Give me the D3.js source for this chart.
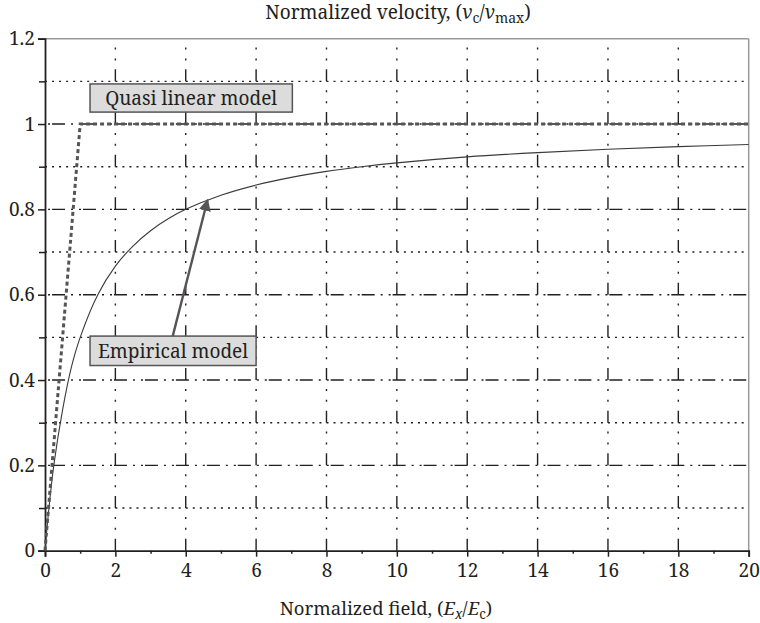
<!DOCTYPE html>
<html>
<head>
<meta charset="utf-8">
<script src="https://cdn.jsdelivr.net/npm/d3@7"></script>
<style>
  html, body { margin: 0; padding: 0; background: #fff; }
</style>
</head>
<body>
<div id="chart"></div>
<script>
// values
const fieldValues = [0, 0.1, 0.25, 0.5, 0.75, 1, 1.5, 2, 2.5, 3, 3.5, 4, 5, 6, 7, 8, 9, 10, 12, 14, 16, 18, 20];
const empiricalValues = [0, 0.09, 0.2, 0.33, 0.43, 0.5, 0.6, 0.667, 0.714, 0.75, 0.778, 0.8, 0.833, 0.857, 0.875, 0.889, 0.9, 0.909, 0.923, 0.933, 0.941, 0.947, 0.952];
const quasiField = [0, 1, 20];
const quasiValues = [0, 1, 1];
const xTicks = [0, 2, 4, 6, 8, 10, 12, 14, 16, 18, 20];
const yTicks = [0, 0.2, 0.4, 0.6, 0.8, 1, 1.2];

const FONT = "'Noto Serif', 'Liberation Serif', serif";
const width = 760, height = 623;
const margin = {top: 38.7, right: 11.3, bottom: 72.3, left: 45};

const svg = d3.select("#chart").append("svg")
  .attr("width", width)
  .attr("height", height);

const x = d3.scaleLinear().domain([0, 20]).range([margin.left, width - margin.right]);
const y = d3.scaleLinear().domain([0, 1.2]).range([height - margin.bottom, margin.top]);

// grid
const minorY = d3.range(1, 12).map(d => d / 10);
const unit = x(1) - x(0);
const yStep = y(0) - y(0.1);

svg.append("g").selectAll("line")
  .data(minorY)
  .enter()
  .append("line")
  .attr("x1", x(0))
  .attr("x2", x(20))
  .attr("y1", d => y(d))
  .attr("y2", d => y(d))
  .attr("stroke", "#231f20")
  .attr("stroke-width", 1.4)
  .attr("stroke-dasharray", (d, i) => i % 2 === 1
    ? `${unit * 0.37},${unit * 0.17},2,${unit * 0.17},2,${unit * 0.17 - 4}`
    : `2,${unit / 5 - 2}`)
  .attr("stroke-dashoffset", (d, i) => i % 2 === 1 ? -unit * 0.2 : 0);

// vertical grid, drawn top-down: gap, dot, gap, dot, gap, dash ending on each 0.1 line
const vDash = 12, vGap = (yStep - vDash - 4) / 3;
svg.append("g").selectAll("line")
  .data(d3.range(2, 20, 2))
  .enter()
  .append("line")
  .attr("x1", d => x(d))
  .attr("x2", d => x(d))
  .attr("y1", y(1.2))
  .attr("y2", y(0))
  .attr("stroke", "#231f20")
  .attr("stroke-width", 1.4)
  .attr("stroke-dasharray", `2,${vGap},2,${vGap},${vDash},${vGap}`)
  .attr("stroke-dashoffset", yStep - vGap);

// frame
svg.append("line")
  .attr("x1", x(0)).attr("x2", x(20))
  .attr("y1", y(1.2)).attr("y2", y(1.2))
  .attr("stroke", "#999").attr("stroke-width", 1.5);
svg.append("line")
  .attr("x1", x(20)).attr("x2", x(20))
  .attr("y1", y(1.2)).attr("y2", y(0))
  .attr("stroke", "#999").attr("stroke-width", 1.5);

// axes
svg.append("g")
  .attr("transform", `translate(0,${y(0)})`)
  .call(d3.axisBottom(x).tickValues(xTicks).tickSize(6).tickPadding(7).tickFormat(d3.format("d")));
svg.append("g")
  .attr("transform", `translate(0,${y(0)})`)
  .call(d3.axisBottom(x).tickValues(d3.range(1, 20, 2)).tickSize(3).tickFormat(""))
  .call(g => g.select(".domain").remove());

svg.append("g")
  .attr("transform", `translate(${x(0)},0)`)
  .call(d3.axisLeft(y).tickValues(yTicks).tickSize(7).tickPadding(3).tickFormat(d => d === 0 || d === 1 ? d : d.toFixed(1)));
svg.append("g")
  .attr("transform", `translate(${x(0)},0)`)
  .call(d3.axisLeft(y).tickValues(minorY.filter((d, i) => i % 2 === 0)).tickSize(6).tickFormat(""))
  .call(g => g.select(".domain").remove());

svg.selectAll(".domain").attr("stroke", "#231f20").attr("stroke-width", 1.8);
svg.selectAll(".tick line").attr("stroke", "#231f20").attr("stroke-width", 1.5);
svg.selectAll(".tick text").attr("fill", "#231f20")
  .attr("font-family", FONT).attr("font-size", 19);

// curves
svg.append("path")
  .datum(d3.zip(fieldValues, empiricalValues))
  .attr("d", d3.line().x(d => x(d[0])).y(d => y(d[1])).curve(d3.curveCatmullRom.alpha(0.5)))
  .attr("fill", "none")
  .attr("stroke", "#3a3a3a")
  .attr("stroke-width", 1.1);

svg.append("path")
  .datum(d3.zip(quasiField, quasiValues))
  .attr("d", d3.line().x(d => x(d[0])).y(d => y(d[1])))
  .attr("fill", "none")
  .attr("stroke", "#555")
  .attr("stroke-width", 3)
  .attr("stroke-dasharray", "4,3");

// arrow
svg.append("defs").append("marker")
  .attr("id", "head")
  .attr("viewBox", "0 0 10 10")
  .attr("refX", 9).attr("refY", 5)
  .attr("markerWidth", 5).attr("markerHeight", 5)
  .attr("orient", "auto")
  .append("path")
  .attr("d", "M0,0L10,5L0,10z")
  .attr("fill", "#555");

svg.append("line")
  .attr("x1", x(3.63)).attr("y1", y(0.503))
  .attr("x2", x(4.62)).attr("y2", y(0.822))
  .attr("stroke", "#555")
  .attr("stroke-width", 2.4)
  .attr("marker-end", "url(#head)");

// labels
const labels = [
  {text: "Quasi linear model", x0: 1.28, x1: 7.03, y0: 1.094, y1: 1.028},
  {text: "Empirical model", x0: 1.28, x1: 6.0, y0: 0.503, y1: 0.434}
];

labels.forEach(l => {
  const g = svg.append("g");
  g.append("rect")
    .attr("x", x(l.x0)).attr("y", y(l.y0))
    .attr("width", x(l.x1) - x(l.x0))
    .attr("height", y(l.y1) - y(l.y0))
    .attr("fill", "#dcdcdc")
    .attr("stroke", "#555")
    .attr("stroke-width", 1.5);
  g.append("text")
    .attr("x", (x(l.x0) + x(l.x1)) / 2)
    .attr("y", (y(l.y0) + y(l.y1)) / 2 + 7)
    .attr("text-anchor", "middle")
    .attr("font-family", FONT)
    .attr("font-size", 19)
    .attr("fill", "#231f20")
    .text(l.text);
});

// titles
const title = svg.append("text")
  .attr("x", 398)
  .attr("y", 19)
  .attr("text-anchor", "middle")
  .attr("font-family", FONT)
  .attr("font-size", 19)
  .attr("fill", "#231f20");
title.append("tspan").text("Normalized velocity, (");
title.append("tspan").attr("font-style", "italic").text("v");
title.append("tspan").attr("baseline-shift", "-25%").attr("font-size", 14).text("c");
title.append("tspan").text("/");
title.append("tspan").attr("font-style", "italic").text("v");
title.append("tspan").attr("baseline-shift", "-25%").attr("font-size", 14).text("max");
title.append("tspan").text(")");

const xTitle = svg.append("text")
  .attr("x", 386)
  .attr("y", 615)
  .attr("text-anchor", "middle")
  .attr("font-family", FONT)
  .attr("font-size", 18.5)
  .attr("fill", "#231f20");
xTitle.append("tspan").text("Normalized field, (");
xTitle.append("tspan").attr("font-style", "italic").text("E");
xTitle.append("tspan").attr("baseline-shift", "-25%").attr("font-size", 13.5).attr("font-style", "italic").text("x");
xTitle.append("tspan").text("/");
xTitle.append("tspan").attr("font-style", "italic").text("E");
xTitle.append("tspan").attr("baseline-shift", "-25%").attr("font-size", 13.5).text("c");
xTitle.append("tspan").text(")");
</script>
</body>
</html>
